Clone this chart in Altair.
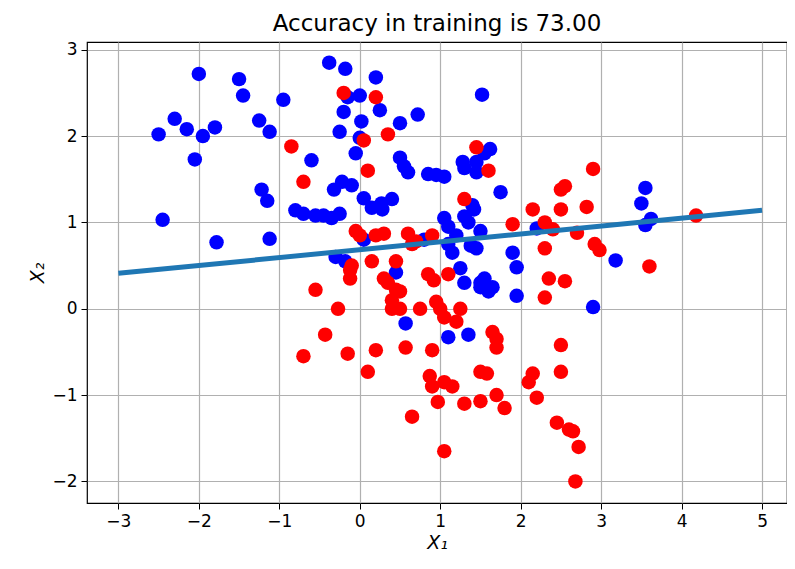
import altair as alt
import pandas as pd

blue_x = [-2.5, -2.45, -2.3, -2.15, -2.05, -2.0, -1.95, -1.8, -1.78, -1.5, -1.45, -1.25, -1.22, -1.15,
          -1.12, -1.12, -0.95, -0.8, -0.7, -0.6, -0.55, -0.45, -0.35, -0.38, -0.32, -0.25, -0.22, -0.2,
          -0.18, -0.15, -0.1, -0.25, -0.3, -0.18, -0.05, 0.0, 0.02, 0.0, 0.05, 0.05, 0.15, 0.2, 0.25,
          0.27, 0.28, 0.4, 0.5, 0.5, 0.55, 0.6, 0.45, 0.57, 0.72, 0.8, 0.95, 0.85, 1.05, 1.05, 1.1,
          1.15, 1.1, 1.2, 1.25, 1.3, 1.28, 1.3, 1.35, 1.4, 1.42, 1.38, 1.45, 1.5, 1.3, 1.35, 1.1, 1.5,
          1.55, 1.5, 1.6, 1.65, 1.45, 1.45, 1.52, 1.55, 1.62, 1.75, 1.9, 1.95, 1.95, 2.2, 2.9, 3.18,
          3.5, 3.55, 3.55, 3.62]
blue_y = [2.02, 1.03, 2.2, 2.08, 1.73, 2.72, 2.0, 2.1, 0.77, 2.66, 2.47, 2.18, 1.38, 1.25,
          2.05, 0.81, 2.42, 1.14, 1.1, 1.72, 1.08, 1.08, 1.05, 2.85, 1.38, 2.05, 1.47, 2.28,
          2.78, 2.45, 1.43, 1.1, 0.6, 0.55, 1.8, 1.98, 2.17, 2.47, 1.28, 0.8, 1.17, 2.68, 2.3,
          1.22, 1.15, 1.27, 2.15, 1.75, 1.65, 1.58, 0.42, -0.17, 2.25, 0.8, 1.55, 1.56, 1.53, 1.05, 0.75,
          0.65, 0.95, 0.85, 0.47, 1.07, 1.7, 1.63, 1.0, 1.2, 1.15, 0.73, 0.7, 0.9, 0.3, -0.3, -0.33, 0.3,
          0.35, 0.25, 0.2, 0.25, 1.58, 1.7, 2.48, 1.8, 1.85, 1.35, 0.65, 0.48, 0.15, 0.93, 0.02, 0.56,
          1.22, 1.4, 0.97, 1.04]

red_x = [-0.85, -0.7, -0.55, -0.7, -0.43, -0.27, -0.2, -0.12, -0.1, -0.12, -0.15, -0.05, 0.0, 0.05,
         0.1, 0.1, 0.2, 0.15, 0.2, 0.3, 0.35, 0.3, 0.35, 0.4, 0.45, 0.5, 0.5, 0.45, 0.4, 0.2, 0.57,
         0.6, 0.65, 0.7, 0.65, 0.75, 0.85, 0.9, 0.92, 0.95, 0.9, 0.87, 0.9, 0.97, 1.0, 1.05, 1.05,
         1.05, 1.1, 1.15, 1.25, 1.2, 1.3, 1.3, 1.45, 1.5, 1.5, 1.58, 1.6, 1.65, 1.7, 1.7, 1.7, 1.8,
         1.9, 2.1, 2.15, 2.15, 2.2, 2.3, 2.3, 2.3, 2.35, 2.4, 2.45, 2.5, 2.55, 2.5, 2.5, 2.5, 2.55,
         2.6, 2.65, 2.7, 2.72, 2.68, 2.82, 2.9, 2.92, 2.98, 3.6, 4.18]
red_y = [1.88, 1.47, 0.22, -0.55, -0.3, 0.0, 2.5, 0.45, 0.5, 0.35, -0.52, 0.9, 0.85, 1.95,
         1.6, -0.73, 2.45, 0.55, 0.85, 0.87, 2.02, 0.35, 0.3, 0.0, 0.22, 0.0, 0.2, 0.55, 0.1, -0.48, -0.45,
         0.87, 0.75, 0.78, -1.25, 0.0, 0.4, 0.85, 0.33, 0.08, -0.48, -0.78, -0.9, -1.08, 0.0, -0.1, -0.85,
         -1.65, 0.4, -0.9, 0.0, -0.15, 1.27, -1.1, 1.87, -0.73, -1.07, -0.75, 1.6, -0.27, -0.35, -0.45, -1.0, -1.15,
         0.98, -0.85, -0.75, 1.15, -1.03, 0.7, 1.0, 0.13, 0.35, 0.92, -1.32, 1.38, 1.42, 1.15, -0.42, -0.73, 0.32,
         -1.4, -1.42, 0.88, -1.6, -2.0, 1.18, 1.62, 0.75, 0.68, 0.49, 1.08]

line_x = [-3.0, 5.0]
line_y = [0.41, 1.14]

FONT = "DejaVu Sans"

pts = pd.DataFrame({
    "x": blue_x + red_x,
    "y": blue_y + red_y,
    "cls": ["blue"] * len(blue_x) + ["red"] * len(red_x),
})
ln = pd.DataFrame({"x": line_x, "y": line_y})

xs = alt.Scale(domain=[-3.39, 5.31], nice=False, zero=False)
ys = alt.Scale(domain=[-2.25, 3.09], nice=False, zero=False)


def make_axis(vals, title):
    return alt.Axis(values=vals, format="d", title=title, titleFontStyle="italic", grid=True,
                    gridColor="#b0b0b0", gridWidth=1.2, tickColor="black", domain=False,
                    labelFont=FONT, titleFont=FONT,
                    labelFontSize=17, titleFontSize=19, labelColor="black", titleColor="black",
                    tickSize=6, labelPadding=4, titlePadding=4, titleFontWeight="normal")


points = alt.Chart(pts).mark_circle(size=210, opacity=1).encode(
    x=alt.X("x:Q", scale=xs, axis=make_axis(list(range(-3, 6)), "X₁")),
    y=alt.Y("y:Q", scale=ys, axis=make_axis(list(range(-2, 4)), "X₂")),
    color=alt.Color("cls:N", scale=alt.Scale(domain=["red", "blue"], range=["#ff0000", "#0000ff"]), legend=None),
)

line = alt.Chart(ln).mark_line(color="#1f77b4", strokeWidth=5, clip=True).encode(
    x=alt.X("x:Q", scale=xs),
    y=alt.Y("y:Q", scale=ys),
)

chart = alt.layer(points, line).properties(
    width=700, height=461,
    title=alt.TitleParams("Accuracy in training is 73.00", font=FONT, fontSize=23, fontWeight="normal",
                          anchor="middle", color="black", offset=5),
    autosize=alt.AutoSizeParams(type="none"),
    padding={"left": 79, "top": 34, "right": 0, "bottom": 50},
).configure(font=FONT).configure_view(stroke="black", strokeWidth=1.2)

chart.save("out.html", embed_options={"renderer": "svg", "actions": False})
